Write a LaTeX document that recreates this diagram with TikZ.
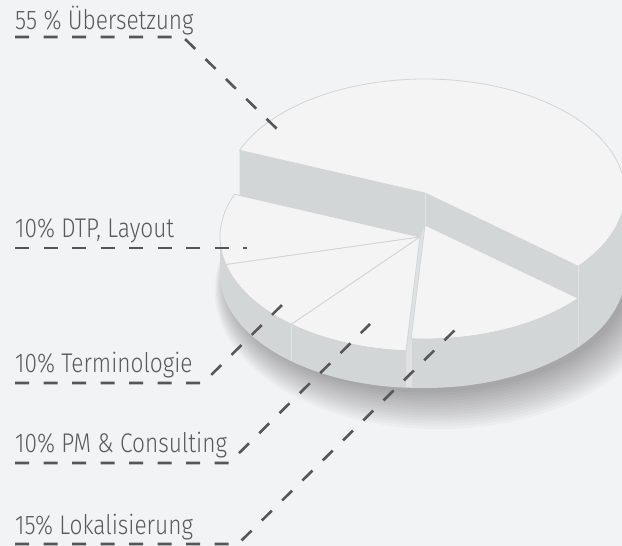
\documentclass[tikz,border=0pt]{standalone}
\usepackage{fontspec}
\setmainfont{Fira Sans Light}[FakeStretch=0.84]

\definecolor{bgcol}{HTML}{F2F3F5}
\definecolor{topcol}{HTML}{F4F4F4}
\definecolor{sidecol}{HTML}{D3D6D7}
\definecolor{edgecol}{HTML}{D2D4D5}
\definecolor{seamcol}{HTML}{DFE1E2}
\definecolor{txtcol}{HTML}{595A5B}
\definecolor{dashcol}{HTML}{555657}

\tikzset{
	pielabel/.style={anchor=base west, inner sep=0pt, text=txtcol, font=\fontsize{27}{27}\selectfont},
	leader/.style={draw=dashcol, line width=2.6pt, dash pattern=on 14pt off 14.5pt},
	topface/.style={fill=topcol, draw=edgecol, line width=0.8pt, line join=round},
	sideface/.style={fill=sidecol},
	seam/.style={draw=seamcol, line width=0.8pt},
	rad/.style={x radius=200, y radius=114}
}

\begin{document}
\begin{tikzpicture}[x=1pt, y=1pt]
	\useasboundingbox (0,0) rectangle (622,546);
	\fill [bgcol] (0,0) rectangle (622,546);

	% centres of the slices (top and base)
	\coordinate (Tb) at (425,353);
	\coordinate (Tl) at (425,321);
	\coordinate (Ts) at (420,309);
	\coordinate (Bb) at (425,272);
	\coordinate (Bs) at (420,272);

	% shadow
	\foreach \i in {1,...,14}
		\fill [black, opacity=0.022] (428+0.8*\i,268-0.9*\i) ellipse [x radius=198+1.9*\i, y radius=112+1.9*\i];

	% 55 %
	\fill [sideface] ([shift={(Tb)}]320:200 and 114) arc [start angle=320, end angle=360, rad]
		-- ([shift={(Bb)}]360:200 and 114) arc [start angle=360, end angle=320, rad] -- cycle;
	\fill [sideface] (Tb) -- ([shift={(Tb)}]158:200 and 114) -- ([shift={(Bb)}]158:200 and 114) -- (Bb) -- cycle;
	\fill [sideface] (Tb) -- ([shift={(Tb)}]320:200 and 114) -- ([shift={(Bb)}]320:200 and 114) -- (Bb) -- cycle;
	\draw [seam] ([shift={(Tb)}]320:200 and 114) -- ([shift={(Bb)}]320:200 and 114);
	\draw [seam] (Tb) -- (Bb);
	\draw [topface] (Tb) -- ([shift={(Tb)}]-40:200 and 114) arc [start angle=-40, end angle=158, rad] -- cycle;

	% gap between 10 % and 15 %
	\fill [seamcol] (Ts) -- ([shift={(Ts)}]266:200 and 114) -- ([shift={(Bs)}]266:200 and 114)
		-- ([shift={(Bb)}]266:200 and 114) -- ([shift={(Tl)}]266:200 and 114) -- (Tl) -- cycle;

	% 15 %
	\fill [sideface] ([shift={(Tl)}]266:200 and 114) arc [start angle=266, end angle=320, rad]
		-- ([shift={(Bb)}]320:200 and 114) arc [start angle=320, end angle=266, rad] -- cycle;
	\fill [sideface] (Tl) -- ([shift={(Tl)}]266:200 and 114) -- ([shift={(Bb)}]266:200 and 114) -- (Bb) -- cycle;
	\draw [seam] ([shift={(Tl)}]266:200 and 114) -- ([shift={(Bb)}]266:200 and 114);
	\draw [topface] (Tl) -- ([shift={(Tl)}]266:200 and 114) arc [start angle=266, end angle=320, rad] -- cycle;

	% 10 % slices
	\fill [sideface] ([shift={(Ts)}]180:200 and 114) arc [start angle=180, end angle=266, rad]
		-- ([shift={(Bs)}]266:200 and 114) arc [start angle=266, end angle=180, rad] -- cycle;
	\draw [seam] ([shift={(Ts)}]230:200 and 114) -- ([shift={(Bs)}]230:200 and 114);
	\draw [topface] (Ts) -- ([shift={(Ts)}]158:200 and 114) arc [start angle=158, end angle=194, rad] -- cycle;
	\draw [topface] (Ts) -- ([shift={(Ts)}]194:200 and 114) arc [start angle=194, end angle=230, rad] -- cycle;
	\draw [topface] (Ts) -- ([shift={(Ts)}]230:200 and 114) arc [start angle=230, end angle=266, rad] -- cycle;

	% labels
	\node [pielabel] (l55) at (15,516) {55 \% Übersetzung};
	\node [pielabel] (ldtp) at (15,308) {10\% DTP, Layout};
	\node [pielabel] (lterm) at (15,173) {10\% Terminologie};
	\node [pielabel] (lpm) at (15,93) {10\% PM \& Consulting};
	\node [pielabel] (llok) at (15,11) {15\% Lokalisierung};

	% leader lines
	\coordinate (c55) at (183,509);
	\coordinate (e55) at (278,416);
	\coordinate (edtp) at (247,298);
	\coordinate (cterm) at (203,163);
	\coordinate (eterm) at (285,244);
	\coordinate (cpm) at (229,83);
	\coordinate (epm) at (370,222);
	\coordinate (clok) at (238,2);
	\coordinate (elok) at (460,221);
	\draw [leader] ([yshift=-7pt]l55.base west) -- (c55) -- (e55);
	\draw [leader] ([yshift=-10pt]ldtp.base west) -- (edtp);
	\draw [leader] ([yshift=-10pt]lterm.base west) -- (cterm) -- (eterm);
	\draw [leader] ([yshift=-10pt]lpm.base west) -- (cpm) -- (epm);
	\draw [leader] ([yshift=-9pt]llok.base west) -- (clok) -- (elok);
\end{tikzpicture}
\end{document}
